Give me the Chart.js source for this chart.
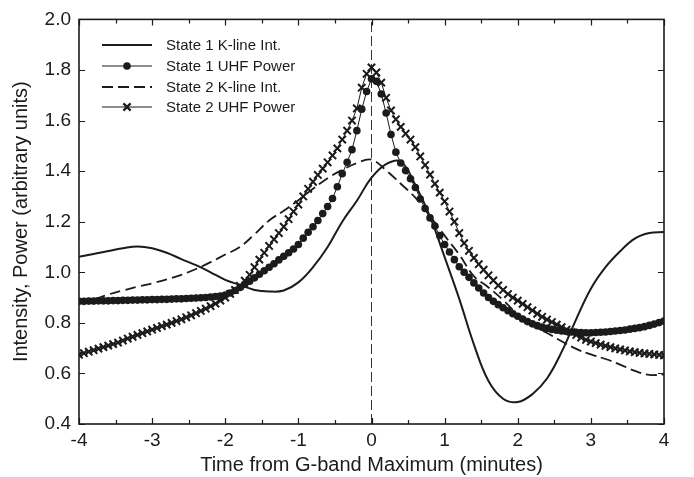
<!DOCTYPE html>
<html lang="en">
<head>
    <meta charset="UTF-8">
    <title>Intensity and UHF power around the G-band maximum</title>
    <script src="https://cdn.jsdelivr.net/npm/chart.js"></script>
    <style>
        html, body { margin: 0; padding: 0; background: #fff; }
        #wrap { width: 694px; height: 477px; }
    </style>
</head>
<body>
    <div id="wrap"><canvas id="chart" width="694" height="477"></canvas></div>
    <script>
        // UHF power samples: one every 4 s, from -240 s to +240 s
        const uhfSeconds = [-240,-236,-232,-228,-224,-220,-216,-212,-208,-204,-200,-196,-192,-188,-184,-180,-176,-172,-168,-164,
            -160,-156,-152,-148,-144,-140,-136,-132,-128,-124,-120,-116,-112,-108,-104,-100,-96,-92,-88,-84,
            -80,-76,-72,-68,-64,-60,-56,-52,-48,-44,-40,-36,-32,-28,-24,-20,-16,-12,-8,-4,
            0,4,8,12,16,20,24,28,32,36,40,44,48,52,56,60,64,68,72,76,
            80,84,88,92,96,100,104,108,112,116,120,124,128,132,136,140,144,148,152,156,
            160,164,168,172,176,180,184,188,192,196,200,204,208,212,216,220,224,228,232,236,240];

        const state1Uhf = [0.885,0.885,0.886,0.886,0.887,0.887,0.887,0.888,0.888,0.889,0.889,0.890,0.890,0.891,0.891,0.892,
            0.892,0.893,0.893,0.894,0.895,0.895,0.896,0.897,0.898,0.899,0.900,0.902,0.904,0.906,
            0.910,0.918,0.928,0.940,0.952,0.965,0.978,0.992,1.006,1.020,1.034,1.049,1.063,1.077,1.092,
            1.110,1.135,1.158,1.180,1.205,1.232,1.260,1.292,1.338,1.390,1.435,1.485,1.560,1.645,1.715,
            1.765,1.755,1.705,1.630,1.545,1.475,1.432,1.402,1.370,1.335,1.290,1.252,1.215,1.183,1.145,
            1.110,1.080,1.050,1.022,1.000,0.980,0.958,0.938,0.918,0.900,0.885,0.872,0.860,0.848,0.836,
            0.826,0.815,0.805,0.796,0.789,0.783,0.778,0.774,0.771,0.768,0.766,0.764,0.763,0.762,0.761,
            0.761,0.762,0.763,0.764,0.766,0.768,0.770,0.772,0.775,0.778,0.781,0.785,0.790,0.795,0.801,0.807];

        const state2Uhf = [0.674,0.680,0.686,0.692,0.698,0.704,0.710,0.716,0.722,0.730,0.738,0.745,0.752,0.759,0.766,
            0.773,0.780,0.787,0.793,0.800,0.807,0.814,0.822,0.830,0.838,0.847,0.856,0.866,0.876,0.888,
            0.900,0.915,0.930,0.946,0.967,0.990,1.020,1.050,1.077,1.104,1.130,1.155,1.180,1.210,1.240,
            1.268,1.300,1.330,1.358,1.385,1.410,1.435,1.462,1.490,1.525,1.560,1.600,1.648,1.730,1.785,
            1.810,1.790,1.750,1.690,1.640,1.605,1.575,1.548,1.525,1.495,1.458,1.424,1.386,1.350,1.315,
            1.280,1.240,1.200,1.155,1.115,1.085,1.057,1.032,1.010,0.988,0.968,0.948,0.930,0.914,0.900,
            0.888,0.875,0.862,0.849,0.836,0.824,0.813,0.803,0.793,0.783,0.773,0.763,0.752,0.742,0.733,
            0.726,0.720,0.714,0.709,0.704,0.699,0.695,0.691,0.687,0.684,0.681,0.679,0.677,0.675,0.673,0.671];

        // K-line intensity, read every 0.2 min
        const kLineMinutes = [-4,-3.8,-3.6,-3.4,-3.2,-3,-2.8,-2.6,-2.4,-2.2,-2,-1.8,-1.6,-1.4,-1.2,-1,-0.8,-0.6,-0.4,-0.2,
            0,0.2,0.4,0.6,0.8,1,1.2,1.4,1.6,1.8,2,2.2,2.4,2.6,2.8,3,3.2,3.4,3.6,3.8,4];
        const state1KLine = [1.061,1.072,1.084,1.095,1.102,1.095,1.077,1.052,1.028,1.000,0.970,0.950,0.930,0.924,0.928,0.960,1.020,1.100,1.200,1.283,
            1.374,1.428,1.438,1.345,1.220,1.060,0.895,0.715,0.570,0.500,0.487,0.518,0.580,0.685,0.815,0.935,1.020,1.083,1.133,1.155,1.159];
        const state2KLine = [0.880,0.893,0.912,0.928,0.943,0.956,0.972,0.990,1.013,1.040,1.070,1.100,1.150,1.205,1.243,1.285,1.330,1.372,1.405,1.432,
            1.445,1.403,1.350,1.295,1.222,1.145,1.070,0.985,0.940,0.890,0.833,0.790,0.760,0.727,0.697,0.675,0.657,0.635,0.610,0.594,0.596];

        const seriesNames = ['State 1 K-line Int.', 'State 1 UHF Power', 'State 2 K-line Int.', 'State 2 UHF Power'];
        const xMin = -4, xMax = 4, yMin = 0.4, yMax = 2.0;

        const ink = '#1b1b1b';
        const fontFamily = '"Liberation Sans", Arial, sans-serif';

        function pairs(xs, ys) {
            return ys.map((v, i) => ({ x: xs[i], y: v }));
        }
        const uhfMinutes = uhfSeconds.map(s => s / 60);

        // frame with inward ticks on all four sides
        const frameTicks = {
            id: 'frameTicks',
            afterDatasetsDraw(chart) {
                const { ctx, chartArea: a, scales: { x, y } } = chart;
                ctx.save();
                ctx.strokeStyle = ink;
                ctx.lineWidth = 1.2;
                ctx.beginPath();
                x.ticks.forEach(t => {
                    const px = Math.round(x.getPixelForValue(t.value)) + 0.5;
                    const len = Number.isInteger(t.value) ? 6 : 4;
                    ctx.moveTo(px, a.bottom); ctx.lineTo(px, a.bottom - len);
                    ctx.moveTo(px, a.top); ctx.lineTo(px, a.top + len);
                });
                y.ticks.forEach(t => {
                    const py = Math.round(y.getPixelForValue(t.value)) + 0.5;
                    ctx.moveTo(a.left, py); ctx.lineTo(a.left + 6, py);
                    ctx.moveTo(a.right, py); ctx.lineTo(a.right - 6, py);
                });
                ctx.stroke();
                ctx.lineWidth = 1.6;
                ctx.strokeRect(a.left, a.top, a.right - a.left, a.bottom - a.top);
                ctx.restore();
            }
        };

        // legend drawn inside the plot, upper left
        const innerLegend = {
            id: 'innerLegend',
            afterDraw(chart) {
                const { ctx } = chart;
                const rowsY = [45, 66, 87, 107];
                const x0 = 102, x1 = 152, tx = 166;
                ctx.save();
                ctx.font = '15px ' + fontFamily;
                ctx.fillStyle = ink;
                ctx.strokeStyle = ink;
                ctx.textBaseline = 'middle';
                seriesNames.forEach((name, i) => {
                    const ds = chart.data.datasets[i];
                    const yy = rowsY[i];
                    ctx.lineWidth = ds.borderWidth;
                    ctx.setLineDash(ds.borderDash || []);
                    ctx.beginPath();
                    ctx.moveTo(x0, yy); ctx.lineTo(x1, yy);
                    ctx.stroke();
                    ctx.setLineDash([]);
                    const mx = (x0 + x1) / 2;
                    if (ds.pointStyle === 'circle') {
                        ctx.beginPath();
                        ctx.arc(mx, yy, 3.8, 0, Math.PI * 2);
                        ctx.fill();
                    } else if (ds.pointStyle === 'crossRot') {
                        ctx.lineWidth = 2.2;
                        ctx.beginPath();
                        ctx.moveTo(mx - 3.6, yy - 3.6); ctx.lineTo(mx + 3.6, yy + 3.6);
                        ctx.moveTo(mx - 3.6, yy + 3.6); ctx.lineTo(mx + 3.6, yy - 3.6);
                        ctx.stroke();
                    }
                    ctx.fillText(name, tx, yy + 1);
                });
                ctx.restore();
            }
        };

        new Chart(document.getElementById('chart'), {
            type: 'line',
            data: {
                datasets: [
                    {
                        label: seriesNames[0],
                        data: pairs(kLineMinutes, state1KLine),
                        borderColor: ink,
                        borderWidth: 2,
                        pointRadius: 0,
                        tension: 0.4
                    },
                    {
                        label: seriesNames[1],
                        data: pairs(uhfMinutes, state1Uhf),
                        borderColor: ink,
                        borderWidth: 1,
                        pointStyle: 'circle',
                        pointRadius: 3.8,
                        pointBackgroundColor: ink,
                        pointBorderWidth: 0,
                        tension: 0
                    },
                    {
                        label: seriesNames[2],
                        data: pairs(kLineMinutes, state2KLine),
                        borderColor: ink,
                        borderWidth: 1.8,
                        borderDash: [11, 5],
                        pointRadius: 0,
                        tension: 0.4
                    },
                    {
                        label: seriesNames[3],
                        data: pairs(uhfMinutes, state2Uhf),
                        borderColor: ink,
                        borderWidth: 1,
                        pointStyle: 'crossRot',
                        pointRadius: 5.2,
                        pointBorderColor: ink,
                        pointBorderWidth: 2,
                        tension: 0
                    },
                    {
                        label: 'zero',
                        data: [{ x: 0, y: yMin }, { x: 0, y: yMax }],
                        borderColor: '#333',
                        borderWidth: 1,
                        borderDash: [10, 4],
                        pointRadius: 0
                    }
                ]
            },
            options: {
                responsive: false,
                animation: false,
                layout: { padding: { left: 0, right: 30, top: 15, bottom: 0 } },
                plugins: { legend: { display: false }, tooltip: { enabled: false } },
                scales: {
                    x: {
                        type: 'linear',
                        min: xMin,
                        max: xMax,
                        afterFit: s => { s.height = 53; },
                        grid: { display: false, drawTicks: false },
                        border: { display: false },
                        ticks: {
                            stepSize: 0.5,
                            autoSkip: false,
                            maxRotation: 0,
                            padding: 5,
                            color: ink,
                            font: { family: fontFamily, size: 19 },
                            callback: v => Number.isInteger(v) ? String(v) : ''
                        },
                        title: {
                            display: true,
                            text: 'Time from G-band Maximum (minutes)',
                            color: ink,
                            font: { family: fontFamily, size: 20 },
                            padding: { top: 0, bottom: 0 }
                        }
                    },
                    y: {
                        min: yMin,
                        max: yMax,
                        afterFit: s => { s.width = 79; },
                        grid: { display: false, drawTicks: false },
                        border: { display: false },
                        ticks: {
                            stepSize: 0.2,
                            padding: 8,
                            color: ink,
                            font: { family: fontFamily, size: 19 },
                            callback: v => v.toFixed(1)
                        },
                        title: {
                            display: true,
                            text: 'Intensity, Power (arbitrary units)',
                            color: ink,
                            font: { family: fontFamily, size: 20 },
                            padding: { top: 9, bottom: 0 }
                        }
                    }
                }
            },
            plugins: [frameTicks, innerLegend]
        });
    </script>
</body>
</html>
